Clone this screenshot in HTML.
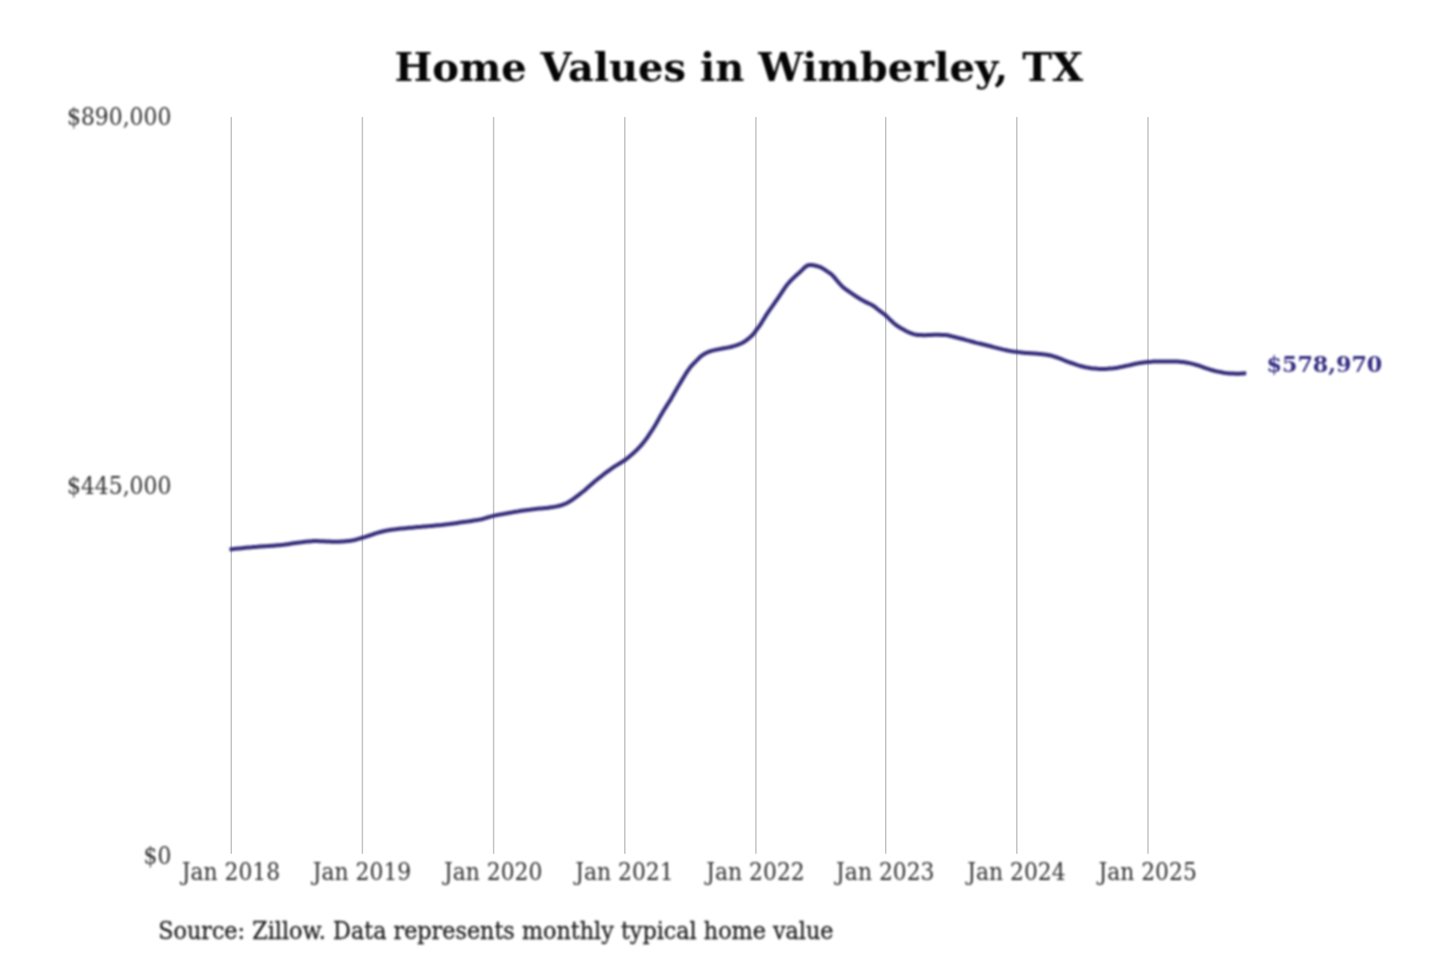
<!DOCTYPE html>
<html lang="en"><head><meta charset="utf-8"><title>Home Values in Wimberley, TX</title>
<style>
html,body{margin:0;padding:0;background:#fff;}
body{width:1440px;height:960px;overflow:hidden;font-family:"DejaVu Serif","Liberation Serif",serif;}
svg{display:block;}
.soft{filter:blur(0.8px);}
svg text{font-family:"DejaVu Serif","Liberation Serif",serif;}
.title{font-size:38.8px;font-weight:bold;fill:#050505;text-anchor:middle;}
.grid line{stroke:#c2c2c2;stroke-width:1.44;}
.xl text{font-size:23.5px;fill:#2e2e2e;text-anchor:middle;}
.yl text{font-size:23.5px;fill:#2e2e2e;text-anchor:end;}
.src{font-size:23.5px;fill:#1e1e1e;stroke:#1e1e1e;stroke-width:0.3px;}
.val{font-size:22.2px;font-weight:bold;fill:#342d82;}
.ln{fill:none;stroke:#322b7a;stroke-width:4;stroke-linejoin:round;stroke-linecap:butt;}
</style></head>
<body>
<svg width="1440" height="960" viewBox="0 0 1440 960">
<rect width="1440" height="960" fill="#ffffff"/>
<text class="title soft" transform="translate(738.7,81.3) scale(1.031,1)">Home Values in Wimberley, TX</text>
<g class="grid"><line x1="231.3" y1="117" x2="231.3" y2="853.7"/><line x1="362.4" y1="117" x2="362.4" y2="853.7"/><line x1="493.6" y1="117" x2="493.6" y2="853.7"/><line x1="624.8" y1="117" x2="624.8" y2="853.7"/><line x1="755.9" y1="117" x2="755.9" y2="853.7"/><line x1="885.7" y1="117" x2="885.7" y2="853.7"/><line x1="1016.8" y1="117" x2="1016.8" y2="853.7"/><line x1="1148.0" y1="117" x2="1148.0" y2="853.7"/></g>
<g class="soft">
<g class="yl"><text transform="translate(171.3,124.6) scale(0.93,1)">$890,000</text><text transform="translate(171.3,493.9) scale(0.93,1)">$445,000</text><text transform="translate(171.3,863.6) scale(0.93,1)">$0</text></g>
<g class="xl"><text transform="translate(230.9,879.7) scale(0.93,1)">Jan 2018</text><text transform="translate(362.0,879.7) scale(0.93,1)">Jan 2019</text><text transform="translate(493.2,879.7) scale(0.93,1)">Jan 2020</text><text transform="translate(624.4,879.7) scale(0.93,1)">Jan 2021</text><text transform="translate(755.5,879.7) scale(0.93,1)">Jan 2022</text><text transform="translate(885.3,879.7) scale(0.93,1)">Jan 2023</text><text transform="translate(1016.4,879.7) scale(0.93,1)">Jan 2024</text><text transform="translate(1147.6,879.7) scale(0.93,1)">Jan 2025</text></g>
<path class="ln" d="M229.5,549.4 L231.5,549.2 L233.5,549.0 L235.5,548.8 L237.5,548.6 L239.5,548.4 L241.5,548.2 L243.5,548.0 L245.5,547.8 L247.5,547.6 L249.5,547.4 L251.5,547.3 L253.5,547.1 L255.5,546.9 L257.5,546.8 L259.5,546.6 L261.5,546.5 L263.5,546.3 L265.5,546.2 L267.5,546.1 L269.5,545.9 L271.5,545.8 L273.5,545.7 L275.5,545.5 L277.5,545.3 L279.5,545.2 L281.5,545.0 L283.5,544.8 L285.5,544.5 L287.5,544.2 L289.5,543.9 L291.5,543.6 L293.5,543.3 L295.5,543.0 L297.5,542.7 L299.5,542.5 L301.5,542.3 L303.5,542.0 L305.5,541.8 L307.5,541.6 L309.5,541.4 L311.5,541.2 L313.5,541.1 L315.5,541.1 L317.5,541.1 L319.5,541.2 L321.5,541.2 L323.5,541.3 L325.5,541.4 L327.5,541.5 L329.5,541.6 L331.5,541.7 L333.5,541.8 L335.5,541.8 L337.5,541.8 L339.5,541.7 L341.5,541.6 L343.5,541.5 L345.5,541.3 L347.5,541.1 L349.5,540.9 L351.5,540.6 L353.5,540.3 L355.5,539.8 L357.5,539.2 L359.5,538.6 L361.5,538.0 L363.5,537.4 L365.5,536.8 L367.5,536.1 L369.5,535.5 L371.5,534.8 L373.5,534.1 L375.5,533.4 L377.5,532.8 L379.5,532.2 L381.5,531.7 L383.5,531.2 L385.5,530.8 L387.5,530.4 L389.5,530.1 L391.5,529.8 L393.5,529.5 L395.5,529.3 L397.5,529.0 L399.5,528.8 L401.5,528.6 L403.5,528.4 L405.5,528.2 L407.5,528.0 L409.5,527.8 L411.5,527.7 L413.5,527.5 L415.5,527.3 L417.5,527.1 L419.5,526.9 L421.5,526.8 L423.5,526.6 L425.5,526.4 L427.5,526.2 L429.5,526.1 L431.5,525.9 L433.5,525.7 L435.5,525.5 L437.5,525.3 L439.5,525.2 L441.5,525.0 L443.5,524.7 L445.5,524.5 L447.5,524.3 L449.5,524.1 L451.5,523.8 L453.5,523.5 L455.5,523.2 L457.5,522.9 L459.5,522.6 L461.5,522.3 L463.5,522.0 L465.5,521.7 L467.5,521.5 L469.5,521.2 L471.5,520.9 L473.5,520.6 L475.5,520.3 L477.5,520.0 L479.5,519.6 L481.5,519.2 L483.5,518.7 L485.5,518.1 L487.5,517.5 L489.5,516.9 L491.5,516.4 L493.5,515.9 L495.5,515.4 L497.5,515.0 L499.5,514.6 L501.5,514.2 L503.5,513.9 L505.5,513.5 L507.5,513.2 L509.5,512.8 L511.5,512.5 L513.5,512.1 L515.5,511.8 L517.5,511.5 L519.5,511.1 L521.5,510.8 L523.5,510.5 L525.5,510.2 L527.5,509.9 L529.5,509.7 L531.5,509.4 L533.5,509.2 L535.5,509.0 L537.5,508.8 L539.5,508.6 L541.5,508.5 L543.5,508.3 L545.5,508.1 L547.5,507.9 L549.5,507.6 L551.5,507.3 L553.5,507.0 L555.5,506.6 L557.5,506.2 L559.5,505.7 L561.5,505.2 L563.5,504.5 L565.5,503.7 L567.5,502.7 L569.5,501.6 L571.5,500.3 L573.5,498.9 L575.5,497.4 L577.5,495.9 L579.5,494.4 L581.5,492.8 L583.5,491.2 L585.5,489.6 L587.5,487.8 L589.5,486.0 L591.5,484.3 L593.5,482.5 L595.5,480.8 L597.5,479.2 L599.5,477.7 L601.5,476.1 L603.5,474.5 L605.5,472.9 L607.5,471.5 L609.5,470.1 L611.5,468.6 L613.5,467.2 L615.5,465.9 L617.5,464.7 L619.5,463.5 L621.5,462.3 L623.5,461.0 L625.5,459.6 L627.5,458.1 L629.5,456.4 L631.5,454.7 L633.5,453.0 L635.5,451.1 L637.5,449.2 L639.5,447.1 L641.5,444.9 L643.5,442.5 L645.5,439.9 L647.5,437.2 L649.5,434.2 L651.5,431.2 L653.5,428.0 L655.5,424.7 L657.5,421.2 L659.5,417.6 L661.5,414.2 L663.5,410.8 L665.5,407.6 L667.5,404.4 L669.5,401.4 L671.5,398.1 L673.5,394.6 L675.5,391.1 L677.5,387.6 L679.5,384.2 L681.5,380.9 L683.5,377.5 L685.5,374.2 L687.5,371.1 L689.5,368.3 L691.5,365.8 L693.5,363.6 L695.5,361.7 L697.5,359.7 L699.5,357.6 L701.5,355.8 L703.5,354.4 L705.5,353.3 L707.5,352.3 L709.5,351.5 L711.5,350.9 L713.5,350.4 L715.5,349.9 L717.5,349.5 L719.5,349.1 L721.5,348.7 L723.5,348.3 L725.5,348.0 L727.5,347.6 L729.5,347.2 L731.5,346.7 L733.5,346.2 L735.5,345.6 L737.5,344.9 L739.5,344.2 L741.5,343.3 L743.5,342.2 L745.5,340.9 L747.5,339.4 L749.5,337.7 L751.5,336.0 L753.5,334.0 L755.5,331.2 L757.5,328.5 L759.5,325.9 L761.5,322.8 L763.5,319.5 L765.5,316.2 L767.5,313.1 L769.5,310.2 L771.5,307.4 L773.5,304.6 L775.5,301.7 L777.5,298.8 L779.5,295.8 L781.5,292.9 L783.5,289.8 L785.5,286.9 L787.5,284.3 L789.5,282.0 L791.5,279.9 L793.5,277.9 L795.5,276.1 L797.5,274.3 L799.5,272.5 L801.5,270.6 L803.5,268.6 L805.5,266.8 L807.5,265.5 L809.5,265.0 L811.5,265.0 L813.5,265.3 L815.5,265.7 L817.5,266.2 L819.5,266.9 L821.5,267.7 L823.5,268.9 L825.5,270.2 L827.5,271.6 L829.5,272.9 L831.5,274.4 L833.5,276.4 L835.5,278.8 L837.5,281.2 L839.5,283.5 L841.5,285.7 L843.5,287.6 L845.5,289.1 L847.5,290.5 L849.5,291.9 L851.5,293.3 L853.5,294.6 L855.5,296.0 L857.5,297.2 L859.5,298.5 L861.5,299.7 L863.5,300.8 L865.5,301.9 L867.5,302.9 L869.5,303.8 L871.5,304.8 L873.5,305.9 L875.5,307.4 L877.5,309.1 L879.5,310.7 L881.5,312.2 L883.5,313.6 L885.5,315.3 L887.5,317.1 L889.5,319.1 L891.5,321.0 L893.5,322.9 L895.5,324.6 L897.5,326.0 L899.5,327.3 L901.5,328.5 L903.5,329.6 L905.5,330.7 L907.5,331.7 L909.5,332.6 L911.5,333.4 L913.5,334.1 L915.5,334.6 L917.5,334.9 L919.5,335.1 L921.5,335.1 L923.5,335.2 L925.5,335.2 L927.5,335.1 L929.5,335.0 L931.5,334.9 L933.5,334.8 L935.5,334.8 L937.5,334.8 L939.5,334.8 L941.5,334.9 L943.5,334.9 L945.5,335.1 L947.5,335.3 L949.5,335.7 L951.5,336.2 L953.5,336.8 L955.5,337.3 L957.5,337.8 L959.5,338.2 L961.5,338.7 L963.5,339.2 L965.5,339.8 L967.5,340.4 L969.5,340.9 L971.5,341.5 L973.5,342.0 L975.5,342.6 L977.5,343.1 L979.5,343.5 L981.5,344.0 L983.5,344.5 L985.5,345.0 L987.5,345.5 L989.5,346.0 L991.5,346.5 L993.5,347.1 L995.5,347.6 L997.5,348.1 L999.5,348.6 L1001.5,349.1 L1003.5,349.6 L1005.5,350.0 L1007.5,350.5 L1009.5,350.9 L1011.5,351.3 L1013.5,351.6 L1015.5,351.8 L1017.5,352.1 L1019.5,352.3 L1021.5,352.5 L1023.5,352.7 L1025.5,352.9 L1027.5,353.0 L1029.5,353.2 L1031.5,353.3 L1033.5,353.4 L1035.5,353.6 L1037.5,353.8 L1039.5,354.0 L1041.5,354.1 L1043.5,354.4 L1045.5,354.6 L1047.5,354.9 L1049.5,355.2 L1051.5,355.7 L1053.5,356.4 L1055.5,357.0 L1057.5,357.7 L1059.5,358.4 L1061.5,359.2 L1063.5,360.0 L1065.5,360.8 L1067.5,361.6 L1069.5,362.3 L1071.5,363.0 L1073.5,363.7 L1075.5,364.4 L1077.5,365.1 L1079.5,365.7 L1081.5,366.2 L1083.5,366.7 L1085.5,367.2 L1087.5,367.6 L1089.5,367.9 L1091.5,368.2 L1093.5,368.4 L1095.5,368.6 L1097.5,368.8 L1099.5,368.9 L1101.5,369.0 L1103.5,369.0 L1105.5,368.9 L1107.5,368.8 L1109.5,368.6 L1111.5,368.5 L1113.5,368.3 L1115.5,368.0 L1117.5,367.7 L1119.5,367.3 L1121.5,366.9 L1123.5,366.5 L1125.5,366.0 L1127.5,365.6 L1129.5,365.2 L1131.5,364.7 L1133.5,364.3 L1135.5,363.8 L1137.5,363.4 L1139.5,363.1 L1141.5,362.8 L1143.5,362.5 L1145.5,362.3 L1147.5,362.1 L1149.5,361.9 L1151.5,361.8 L1153.5,361.6 L1155.5,361.5 L1157.5,361.4 L1159.5,361.4 L1161.5,361.4 L1163.5,361.4 L1165.5,361.4 L1167.5,361.4 L1169.5,361.4 L1171.5,361.4 L1173.5,361.4 L1175.5,361.5 L1177.5,361.6 L1179.5,361.7 L1181.5,361.9 L1183.5,362.1 L1185.5,362.4 L1187.5,362.7 L1189.5,363.1 L1191.5,363.6 L1193.5,364.1 L1195.5,364.7 L1197.5,365.2 L1199.5,365.9 L1201.5,366.6 L1203.5,367.3 L1205.5,368.1 L1207.5,368.7 L1209.5,369.4 L1211.5,370.0 L1213.5,370.5 L1215.5,371.1 L1217.5,371.5 L1219.5,371.9 L1221.5,372.3 L1223.5,372.7 L1225.5,373.0 L1227.5,373.2 L1229.5,373.4 L1231.5,373.5 L1233.5,373.6 L1235.5,373.7 L1237.5,373.7 L1239.5,373.7 L1241.5,373.6 L1243.5,373.5 L1245.5,373.3 L1246.2,373.3"/>
<text class="val" x="1266.5" y="371.7">$578,970</text>
<text class="src" transform="translate(158.2,939.2) scale(0.949,1)">Source: Zillow. Data represents monthly typical home value</text>
</g>
</svg>
</body></html>
